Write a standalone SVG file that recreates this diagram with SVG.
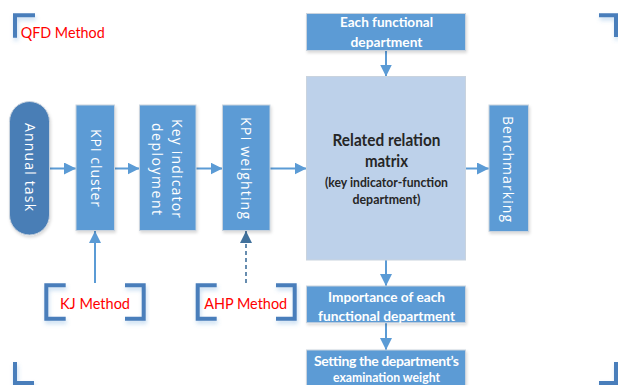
<svg xmlns="http://www.w3.org/2000/svg" width="618" height="385" viewBox="0 0 618 385">
<style>
  .box { fill: #5b9bd5; stroke: #c9d3de; stroke-width: 1; }
  .pill { fill: #4a7eb6; stroke: #c9d3de; stroke-width: 1; }
  .matrix { fill: #bdd1ea; stroke: #c9d3de; stroke-width: 1; }
  .vt { font-family: "Open Sans", "Liberation Sans", sans-serif; font-size: 14px; fill: #ffffff; text-anchor: middle; }
  .ht { font-family: Lato, "Liberation Sans", sans-serif; font-weight: bold; font-size: 14px; fill: #ffffff; text-anchor: middle; }
  .mt { font-family: Lato, "Liberation Sans", sans-serif; font-weight: bold; fill: #262626; text-anchor: middle; }
  .red { font-family: Lato, "Liberation Sans", sans-serif; font-size: 16px; fill: #ff0000; }
  .br { fill: none; stroke: #4a7ebb; stroke-width: 4; stroke-linecap: butt; stroke-linejoin: miter; }
  .arr { fill: none; stroke: #5b9bd5; stroke-width: 2; }
</style>
<defs>
  <filter id="sh" x="-30%" y="-30%" width="160%" height="160%">
    <feDropShadow dx="1" dy="3" stdDeviation="2" flood-color="#5b9bd5" flood-opacity="0.35"/>
  </filter>
  <filter id="bsh" x="-10%" y="-10%" width="130%" height="130%">
    <feDropShadow dx="1" dy="2" stdDeviation="1.5" flood-color="#000000" flood-opacity="0.15"/>
  </filter>
  <marker id="ah" viewBox="0 0 12 12" refX="12" refY="6" markerWidth="12" markerHeight="12" markerUnits="userSpaceOnUse" orient="auto">
    <path d="M0,0 L12,6 L0,12 z" fill="#5b9bd5"/>
  </marker>
  <marker id="ahd" viewBox="0 0 12 12" refX="12" refY="6" markerWidth="12" markerHeight="12" markerUnits="userSpaceOnUse" orient="auto">
    <path d="M0,0 L12,6 L0,12 z" fill="#41719c"/>
  </marker>
</defs>

<g id="frame-corners">
  <path class="br" d="M35,15.3 H15 V37.7" filter="url(#sh)"/>
  <path class="br" d="M599,15.3 H616 V37" filter="url(#sh)"/>
  <path class="br" d="M15,362 V383 H34" filter="url(#sh)"/>
  <path class="br" d="M599,383 H616 V362" filter="url(#sh)"/>
</g>

<g id="qfd-method">
  <text class="red" x="20.7" y="37.5" textLength="84" lengthAdjust="spacingAndGlyphs">QFD Method</text>
</g>

<g id="connectors">
  <line class="arr" x1="49.5" y1="168.5" x2="76" y2="168.5" marker-end="url(#ah)"/>
  <line class="arr" x1="114.5" y1="168.5" x2="139.5" y2="168.5" marker-end="url(#ah)"/>
  <line class="arr" x1="196" y1="168.5" x2="222.5" y2="168.5" marker-end="url(#ah)"/>
  <line class="arr" x1="270" y1="168.5" x2="306.5" y2="168.5" marker-end="url(#ah)"/>
  <line class="arr" x1="465.5" y1="168.5" x2="489" y2="168.5" marker-end="url(#ah)"/>
  <line class="arr" x1="386" y1="50.5" x2="386" y2="76.5" marker-end="url(#ah)"/>
  <line class="arr" x1="386" y1="260" x2="386" y2="286" marker-end="url(#ah)"/>
  <line class="arr" x1="386" y1="322.7" x2="386" y2="350" marker-end="url(#ah)"/>
  <line class="arr" x1="95" y1="283" x2="95" y2="231" stroke-width="1.4" marker-end="url(#ah)"/>
  <line x1="246" y1="283" x2="246" y2="231" fill="none" stroke="#41719c" stroke-width="1.6" stroke-dasharray="4,3" marker-end="url(#ahd)"/>
</g>

<g id="annual-task">
  <rect class="pill" x="9.5" y="101.5" width="40" height="133.5" rx="20" ry="20" filter="url(#bsh)"/>
  <text class="vt" transform="translate(29.5,167) rotate(90)" x="0" y="5" textLength="88" lengthAdjust="spacing">Annual task</text>
</g>

<g id="kpi-cluster">
  <rect class="box" x="76" y="105" width="38.5" height="125.5" filter="url(#bsh)"/>
  <text class="vt" transform="translate(95.5,168) rotate(90)" x="0" y="5" textLength="78" lengthAdjust="spacing">KPI cluster</text>
</g>

<g id="key-indicator-deployment">
  <rect class="box" x="139.5" y="105" width="56.5" height="125.5" filter="url(#bsh)"/>
  <text class="vt" transform="translate(177,168.5) rotate(90)" x="0" y="5" textLength="99" lengthAdjust="spacing">Key indicator</text>
  <text class="vt" transform="translate(157,169) rotate(90)" x="0" y="5" textLength="92" lengthAdjust="spacing">deployment</text>
</g>

<g id="kpi-weighting">
  <rect class="box" x="222.5" y="105" width="47.5" height="125.5" filter="url(#bsh)"/>
  <text class="vt" transform="translate(246,168) rotate(90)" x="0" y="5" textLength="102" lengthAdjust="spacing">KPI weighting</text>
</g>

<g id="each-functional-department">
  <rect class="box" x="306.5" y="13.5" width="159" height="37" filter="url(#bsh)"/>
  <text class="ht" x="386.5" y="27" textLength="93" lengthAdjust="spacingAndGlyphs">Each functional</text>
  <text class="ht" x="386.5" y="46.5" textLength="72" lengthAdjust="spacingAndGlyphs">department</text>
</g>

<g id="relation-matrix">
  <rect class="matrix" x="306.5" y="76.5" width="159" height="183.5"/>
  <text class="mt" x="386.5" y="146" font-size="17" textLength="108" lengthAdjust="spacingAndGlyphs">Related relation</text>
  <text class="mt" x="386.5" y="167.3" font-size="17" textLength="43" lengthAdjust="spacingAndGlyphs">matrix</text>
  <text class="mt" x="386.5" y="186.5" font-size="13" textLength="123" lengthAdjust="spacingAndGlyphs">(key indicator-function</text>
  <text class="mt" x="386.5" y="204" font-size="13" textLength="68" lengthAdjust="spacingAndGlyphs">department)</text>
</g>

<g id="benchmarking">
  <rect class="box" x="489" y="105" width="39.5" height="126.5" filter="url(#bsh)"/>
  <text class="vt" transform="translate(508,169) rotate(90)" x="0" y="5" textLength="106" lengthAdjust="spacing">Benchmarking</text>
</g>

<g id="importance">
  <rect class="box" x="306.5" y="286" width="159" height="36.7" filter="url(#bsh)"/>
  <text class="ht" x="386.5" y="301.5" font-size="15" textLength="117" lengthAdjust="spacingAndGlyphs">Importance of each</text>
  <text class="ht" x="386.5" y="320.5" font-size="15" textLength="137" lengthAdjust="spacingAndGlyphs">functional department</text>
</g>

<g id="setting-weight">
  <rect class="box" x="306.5" y="350" width="159" height="40" filter="url(#bsh)"/>
  <text class="ht" x="386.5" y="365.5" font-size="12" textLength="145" lengthAdjust="spacing">Setting the department’s</text>
  <text class="ht" x="386.5" y="381.7" font-size="12" textLength="107" lengthAdjust="spacingAndGlyphs">examination weight</text>
</g>

<g id="kj-method">
  <path class="br" d="M65.7,285.3 H46.3 V318.7 H65.7" filter="url(#sh)"/>
  <path class="br" d="M125,285.3 H143.7 V318.7 H125" filter="url(#sh)"/>
  <text class="red" x="95" y="308.5" text-anchor="middle" textLength="70" lengthAdjust="spacingAndGlyphs">KJ Method</text>
</g>

<g id="ahp-method">
  <path class="br" d="M216.7,285.3 H197.7 V318.7 H216.7" filter="url(#sh)"/>
  <path class="br" d="M276,285.3 H294.7 V318.7 H276" filter="url(#sh)"/>
  <text class="red" x="245.7" y="308.5" text-anchor="middle" textLength="83" lengthAdjust="spacingAndGlyphs">AHP Method</text>
</g>
</svg>
